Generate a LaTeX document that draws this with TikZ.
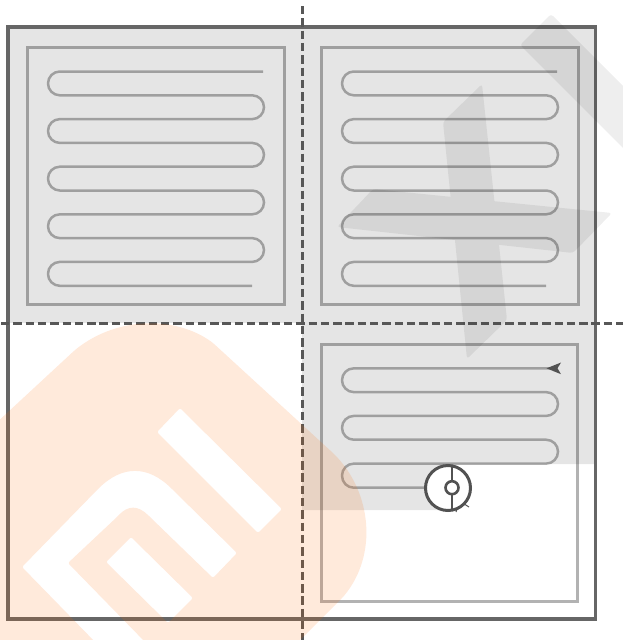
\documentclass[tikz,border=0pt]{standalone}
\tikzset{
  area/.style={fill=black!10.2,draw=none},
  outerwall/.style={draw=black!60,line width=3.2pt,line join=miter},
  room/.style={draw=black,draw opacity=.3,line width=3pt,line join=miter},
  sweep/.style={draw=black,draw opacity=.3,line width=2.5pt,rounded corners=11.85pt},
  divider/.style={draw=black!66,line width=3pt,dash pattern=on 8.4pt off 3.9pt},
  robotbody/.style={draw=black!68,line width=3pt,fill=white},
  robotline/.style={draw=black!68,line width=1.8pt},
  markorange/.style={fill={rgb,255:red,255;green,103;blue,0},fill opacity=.14,draw=none,even odd rule,rounded corners=2pt},
  markgray/.style={fill=black,fill opacity=.065,draw=none,rounded corners=3pt}
}
\newcommand{\fullsweep}{%
  \draw[sweep] (263,71.5) -- (48,71.5) -- (48,95.3) -- (264,95.3) -- (264,119.1)
    -- (48,119.1) -- (48,142.9) -- (264,142.9) -- (264,166.7)
    -- (48,166.7) -- (48,190.5) -- (264,190.5) -- (264,214.3)
    -- (48,214.3) -- (48,238.1) -- (264,238.1) -- (264,261.9)
    -- (48,261.9) -- (48,285.8) -- (252,285.8);}
\begin{document}
\begin{tikzpicture}[x=1pt,y=-1pt]
\useasboundingbox (0,0) rectangle (623,640);
\clip (0,0) rectangle (623,640);
% swept area
\fill[area] (8,27) rectangle (596,323);
\fill[area] (302,323) -- (596,323) -- (596,464) -- (452,464) -- (452,510) -- (302,510) -- cycle;
% rooms
\draw[outerwall] (8,27) rectangle (595.5,619);
\draw[room] (27,47.5) rectangle (284,304);
\draw[room] (321,47.5) rectangle (578,304);
\draw[room] (321,344) rectangle (577.5,601);
% sweep paths
\fullsweep
\begin{scope}[xshift=294pt]
\fullsweep
\end{scope}
\draw[sweep] (552,368.3) -- (342,368.3) -- (342,392.1) -- (558,392.1) -- (558,415.9)
  -- (342,415.9) -- (342,439.7) -- (558,439.7) -- (558,463.6)
  -- (342,463.6) -- (342,487.7) -- (430,487.7);
% dividers
\draw[divider] (1,323.5) -- (623,323.5);
\draw[divider] (302,6) -- (302,640);
% arrowhead
\fill[black!68] (546.5,368.3) -- (561,362.5) -- (557.5,368.3) -- (561,374.2) -- cycle;
% robot
\node[circle,robotbody,minimum size=45pt,inner sep=0pt] (robot) at (448,488) {};
\coordinate (hubtop) at (452,465.5);
\coordinate (hubbottom) at (452,510.5);
\draw[robotline] (hubtop) -- (hubbottom);
\node[circle,draw=black!68,line width=2.6pt,fill=white,minimum size=13pt,inner sep=0pt] (hub) at (452,487.7) {};
\draw[draw=black!68,line width=1pt] (463.5,503.5) -- (469,507);
\draw[draw=black!68,line width=1pt] (457,509) -- (456,512);
% gray watermark
\path[markgray]
  (551,14) -- (701,164) -- (740,265) -- (520,45) -- cycle
  (482,84) -- (443,122) -- (467,359) -- (507,320) -- cycle
  (337,227) -- (573,253) -- (612,213) -- (373,189) -- cycle;
% orange watermark
\path[markorange]
  (-20,438) -- (75,350) .. controls (118,316) and (176,316) .. (213,343)
  -- (333,453) .. controls (372,492) and (378,555) .. (343,597)
  -- (270,670) -- (-20,670) -- cycle
  (180,408) -- (157,432) -- (258,533) -- (282,509) -- cycle
  (22,567) -- (97,490) .. controls (122,465) and (148,465) .. (173,490)
  -- (237,553) -- (213,578) -- (150,517) .. controls (138,505) and (128,505) .. (117,517)
  -- (68,563) -- (148,645) -- (98,645) -- cycle
  (131,537) -- (106,562) -- (168,623) -- (193,598) -- cycle;
\end{tikzpicture}
\end{document}
